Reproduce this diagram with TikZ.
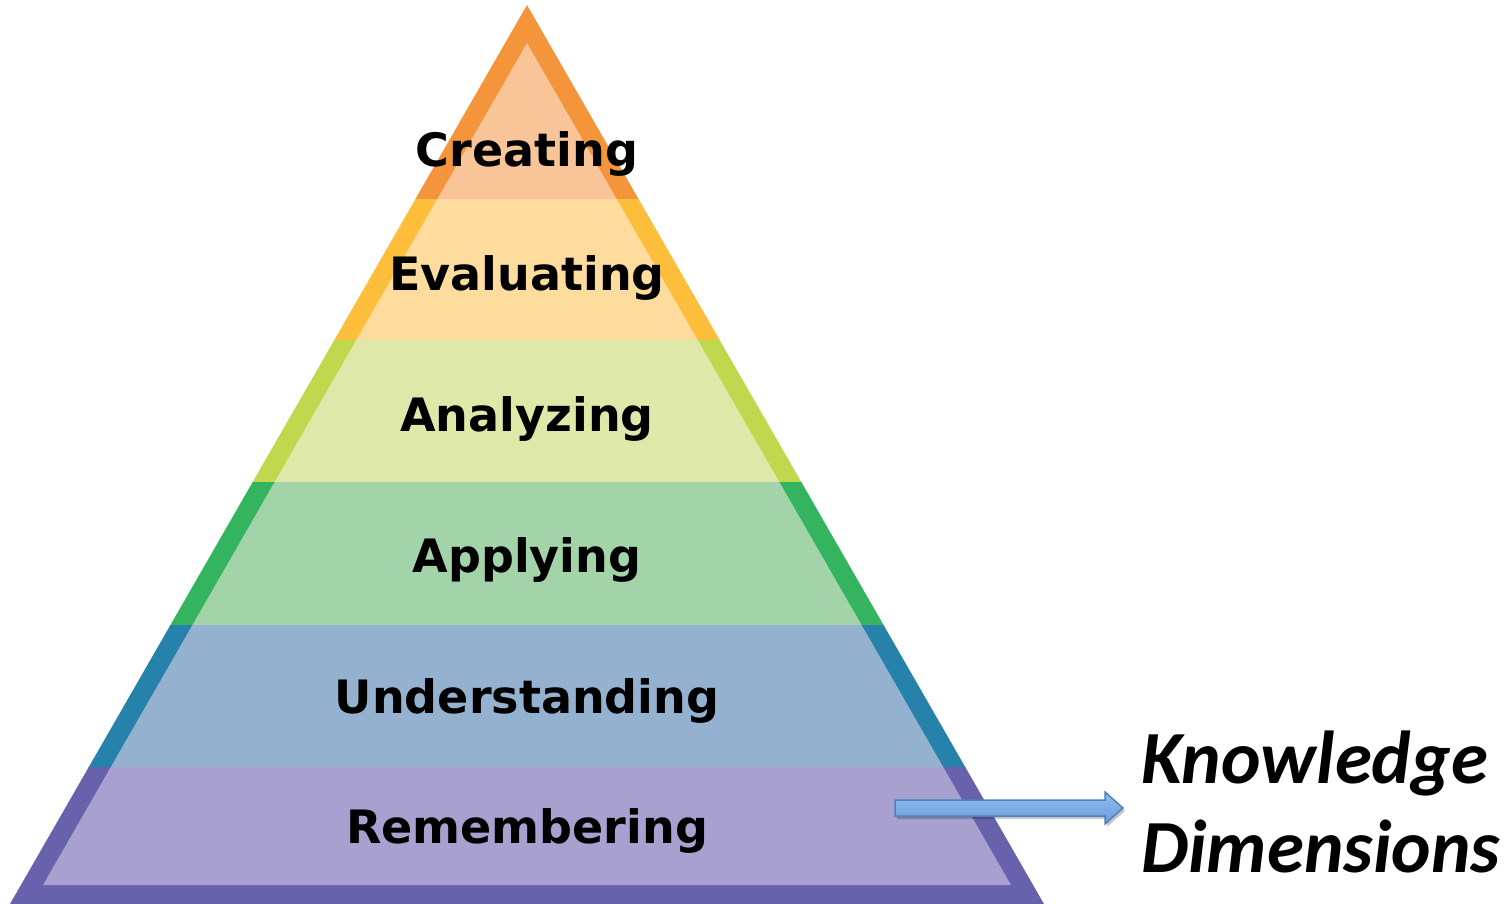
\documentclass[tikz,border=0pt]{standalone}
\usepackage{fontspec}
\setmainfont{DejaVu Sans}
\newfontfamily\kdfont{Carlito}
\usepackage{tikz}

\definecolor{crbord}{HTML}{F4943B}
\definecolor{crfill}{HTML}{F9C498}
\definecolor{evbord}{HTML}{FDBE3B}
\definecolor{evfill}{HTML}{FEDC9E}
\definecolor{anbord}{HTML}{BFD84E}
\definecolor{anfill}{HTML}{DDE8A9}
\definecolor{apbord}{HTML}{35B460}
\definecolor{apfill}{HTML}{A3D3A9}
\definecolor{unbord}{HTML}{2682AA}
\definecolor{unfill}{HTML}{94B2CF}
\definecolor{rebord}{HTML}{6762AB}
\definecolor{refill}{HTML}{A8A1D0}
\definecolor{arrtop}{HTML}{94BDEF}
\definecolor{arrbot}{HTML}{6A9BDB}
\definecolor{arrline}{HTML}{4F81BD}

\begin{document}
\begin{tikzpicture}[x=1pt, y=-1pt,
  lbl/.style={anchor=base, inner sep=0pt, font=\fontsize{46}{46}\selectfont\bfseries},
  kd/.style={anchor=base west, inner sep=0pt, font=\kdfont\fontsize{75}{75}\selectfont\bfseries\itshape}]
\useasboundingbox (0,0) rectangle (1507,904);

\begin{scope}
\clip (0,0) rectangle (1507,200);
\fill[crbord] (527,5) -- (1044,904) -- (10,904) -- cycle;
\fill[crfill] (527,43) -- (1011,885) -- (43,885) -- cycle;
\end{scope}
\begin{scope}
\clip (0,200) rectangle (1507,340);
\fill[evbord] (527,5) -- (1044,904) -- (10,904) -- cycle;
\fill[evfill] (527,43) -- (1011,885) -- (43,885) -- cycle;
\end{scope}
\begin{scope}
\clip (0,340) rectangle (1507,482);
\fill[anbord] (527,5) -- (1044,904) -- (10,904) -- cycle;
\fill[anfill] (527,43) -- (1011,885) -- (43,885) -- cycle;
\end{scope}
\begin{scope}
\clip (0,482) rectangle (1507,625);
\fill[apbord] (527,5) -- (1044,904) -- (10,904) -- cycle;
\fill[apfill] (527,43) -- (1011,885) -- (43,885) -- cycle;
\end{scope}
\begin{scope}
\clip (0,625) rectangle (1507,767);
\fill[unbord] (527,5) -- (1044,904) -- (10,904) -- cycle;
\fill[unfill] (527,43) -- (1011,885) -- (43,885) -- cycle;
\end{scope}
\begin{scope}
\clip (0,767) rectangle (1507,904);
\fill[rebord] (527,5) -- (1044,904) -- (10,904) -- cycle;
\fill[refill] (527,43) -- (1011,885) -- (43,885) -- cycle;
\end{scope}

\node[lbl] (creating) at (527,167) {Creating};
\node[lbl] (evaluating) at (527,290) {Evaluating};
\node[lbl] (analyzing) at (527,431) {Analyzing};
\node[lbl] (applying) at (527,572) {Applying};
\node[lbl] (understanding) at (527,713) {Understanding};
\node[lbl] (remembering) at (527,843) {Remembering};

\node[kd] (knowledge) at (1141,783) {Knowledge};
\node[kd] (dimensions) at (1141,872) {Dimensions};

% block arrow
\coordinate (tail) at (895,808);
\fill[black, opacity=0.22] ([xshift=2pt, yshift=-3pt]tail) ++(0,-8) -- ++(210,0) -- ++(0,-8) -- ++(18,16) -- ++(-18,16) -- ++(0,-8) -- ++(-210,0) -- cycle;
\draw[arrline, line width=1.5pt, top color=arrtop, bottom color=arrbot]
  (tail) ++(0,-8) -- ++(210,0) -- ++(0,-8) -- ++(18,16) -- ++(-18,16) -- ++(0,-8) -- ++(-210,0) -- cycle;
\end{tikzpicture}
\end{document}
